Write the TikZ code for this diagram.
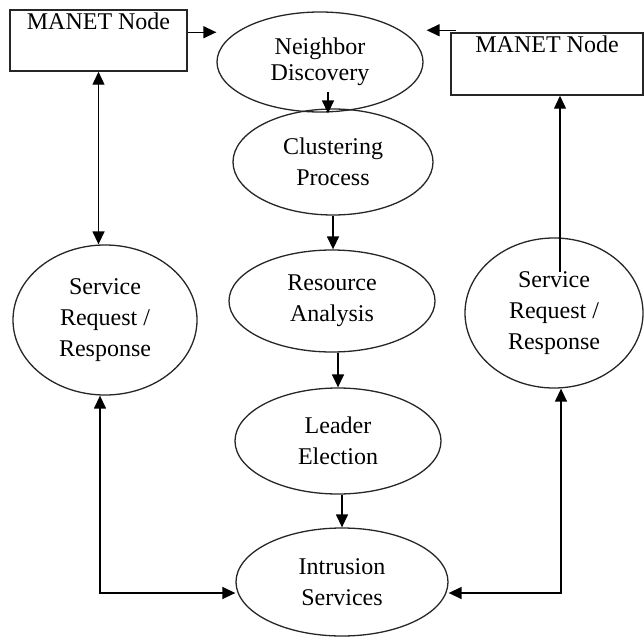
\documentclass[tikz,border=0pt]{standalone}
\usepackage{fontspec}
\setmainfont{Liberation Serif}
\usetikzlibrary{shapes.geometric,arrows.meta,calc}
\begin{document}
\begin{tikzpicture}[x=1pt,y=-1pt,
  every node/.style={font=\fontsize{24}{31}\selectfont},
  ell/.style={draw=black!85, line width=1.3pt, ellipse, inner sep=0pt, align=center},
  box/.style={draw=black!85, line width=1.5pt, rectangle, inner sep=0pt},
  arr/.style={line width=1.4pt, -{Triangle[length=13pt,width=12pt]}},
  darr/.style={line width=1.4pt, {Triangle[length=13pt,width=12pt]}-{Triangle[length=13pt,width=12pt]}}]
\useasboundingbox (0,0) rectangle (644,639);

\node[box, minimum width=177pt, minimum height=61pt,
      label={[anchor=north,inner sep=3pt]north:MANET Node}] (mL) at (98.5,40.5) {};
\node[box, minimum width=192pt, minimum height=62pt,
      label={[anchor=north,inner sep=3pt]north:MANET Node}] (mR) at (547,64) {};

\node[ell, minimum width=206pt, minimum height=100pt, font=\fontsize{24}{26}\selectfont] (ND) at (320,62) {Neighbor\\Discovery};
\node[ell, minimum width=200pt, minimum height=106pt] (CP) at (333,162) {Clustering\\Process};
\node[ell, minimum width=206pt, minimum height=102pt] (RA) at (332,301) {Resource\\Analysis};
\node[ell, minimum width=206pt, minimum height=106pt] (LE) at (338,441) {Leader\\Election};
\node[ell, minimum width=212pt, minimum height=108pt] (IS) at (342,582) {Intrusion\\Services};
\node[ell, minimum width=184pt, minimum height=150pt] (SL) at (105,320) {Service\\Request /\\Response};
\node[ell, minimum width=178pt, minimum height=150pt] (SR) at (554,313) {Service\\Request /\\Response};

% top arrows to Neighbor Discovery
\coordinate (a1) at ($(mL.north east)+(0,23)$);
\draw[arr] (a1) -- (a1 -| ND.west);
\coordinate (a2) at ($(mR.north west)+(6,-2)$);
\coordinate (a2e) at ($(ND.east)+(3,0)$);
\draw[arr] (a2) -- (a2 -| a2e);

% central chain
\draw[arr] ($(ND.south)+(8,-21)$) -- ($(CP.north)+(-5,5)$);
\draw[arr] (CP.south) -- (CP.south |- RA.north);
\draw[arr] (RA.south -| LE.north) -- (LE.north);
\draw[arr] (LE.south -| IS.north) -- (IS.north);

% left side
\draw[darr] (mL.south) -- (mL.south |- SL.north);
\coordinate (cL) at (100,593);
\draw[darr] (SL.south -| cL) -- (cL) -- (cL -| IS.west);

% right side
\coordinate (cT) at (560,272);
\draw[arr] (cT) -- (cT |- mR.south);
\coordinate (cR) at (561,593);
\draw[darr] (cR -| IS.east) -- (cR) -- (cR |- SR.south);
\end{tikzpicture}
\end{document}
